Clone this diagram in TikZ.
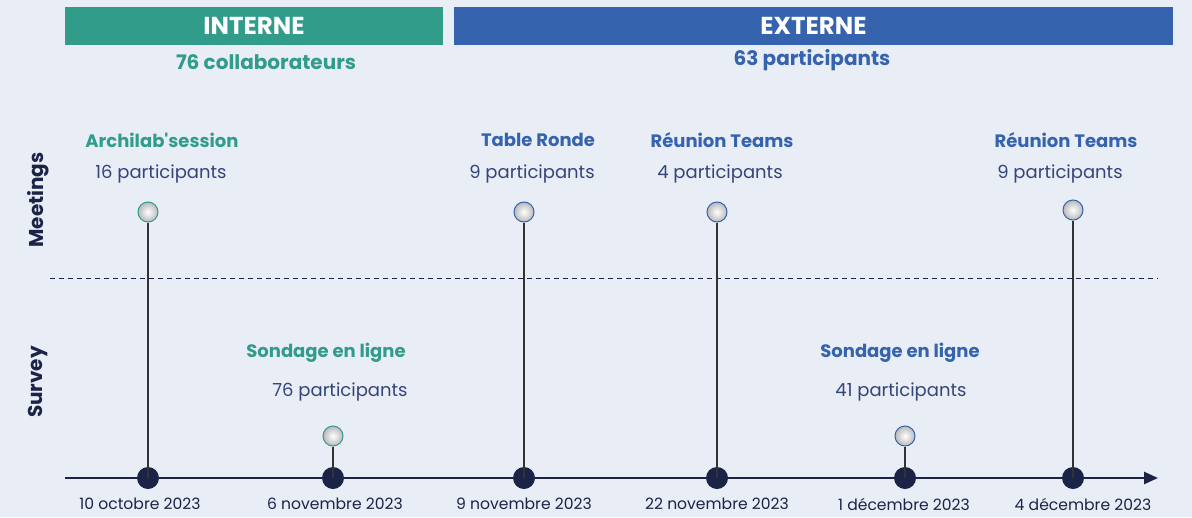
\documentclass[tikz,border=0pt]{standalone}
\usepackage{fontspec}
\setmainfont{Poppins}[Ligatures=TeXOff]
\usetikzlibrary{arrows.meta, positioning}
\definecolor{bgcol}{HTML}{E9EDF6}
\definecolor{interne}{HTML}{329C8B}
\definecolor{externe}{HTML}{3563AE}
\definecolor{navytxt}{HTML}{34457A}
\definecolor{axis}{HTML}{1B2447}

\begin{document}
\begin{tikzpicture}[x=1pt, y=-1pt,
node distance = 4pt and 6pt,
    bar/.style = {minimum height=38pt, inner sep=0pt, text=white,
                  font=\fontsize{24.5}{28}\selectfont\bfseries},
  title/.style = {font=\fontsize{18}{21}\selectfont\bfseries},
  group/.style = {font=\fontsize{20}{23}\selectfont\bfseries},
  count/.style = {text=navytxt, font=\fontsize{18}{21}\selectfont},
   date/.style = {text=axis, font=\fontsize{15.6}{18}\selectfont},
    dot/.style = {circle, fill=axis, minimum size=22pt, inner sep=0pt},
   ball/.style = {circle, draw=#1, line width=1pt, inner color=white,
                  outer color=gray!55, minimum size=20pt, inner sep=0pt},
   side/.style = {rotate=90, text=axis, font=\fontsize{20}{23}\selectfont\bfseries},
  stick/.style = {draw=black!80, line width=1.2pt},
      > = {Triangle[length=14pt, width=12pt]},
         ]
\fill[bgcol] (0,0) rectangle (1192,517);
\useasboundingbox (0,0) rectangle (1192,517);

% groups
\node (int)  [bar, fill=interne, minimum width=378pt] at (254,26) {INTERNE};
\node (ext)  [bar, fill=externe, minimum width=719pt] at (813.5,26) {EXTERNE};
\node (intn) [group, text=interne] at (266,62) {76 collaborateurs};
\node (extn) [group, text=externe] at (812,60) {63 participants};

% rows
\node (meet) [side] at (38,200) {Meetings};
\node (surv) [side] at (38,382) {Survey};
\coordinate (sep0) at (50,278);
\coordinate (sep1) at (1158,278);
\draw[axis, line width=1pt, dash pattern=on 5pt off 4pt] (sep0) -- (sep1);

% time axis
\coordinate (ax0) at (65,478);
\coordinate (ax1) at (1158,478);
\draw[->, axis, line width=2.5pt] (ax0) -- (ax1);

\node (d1) [dot] at (148,478) {};
\node (d2) [dot] at (333,478) {};
\node (d3) [dot] at (524,478) {};
\node (d4) [dot] at (717,478) {};
\node (d5) [dot] at (905,478) {};
\node (d6) [dot] at (1073,478) {};

\node (b1) [ball=interne] at (148,212) {};
\node (b2) [ball=interne] at (333,436) {};
\node (b3) [ball=externe] at (524,212) {};
\node (b4) [ball=externe] at (717,212) {};
\node (b5) [ball=externe] at (905,436) {};
\node (b6) [ball=externe] at (1073,210) {};

%
\draw[stick] (b1) -- (d1.center);
\draw[stick] (b2) -- (d2.center);
\draw[stick] (b3) -- (d3.center);
\draw[stick] (b4) -- (d4.center);
\draw[stick] (b5) -- (d5.center);
\draw[stick] (b6) -- (d6.center);

% labels
\node (t1) [title, text=interne] at (162,140) {Archilab'session};
\node (c1) [count] at (161,174) {16 participants};
\node (t2) [title, text=interne] at (326,353) {Sondage en ligne};
\node (c2) [count] at (340,392) {76 participants};
\node (t3) [title, text=externe] at (538,140) {Table Ronde};
\node (c3) [count] at (532,174) {9 participants};
\node (t4) [title, text=externe] at (722,140) {Réunion Teams};
\node (c4) [count] at (720,174) {4 participants};
\node (t5) [title, text=externe] at (900,353) {Sondage en ligne};
\node (c5) [count] at (901,392) {41 participants};
\node (t6) [title, text=externe] at (1066,140) {Réunion Teams};
\node (c6) [count] at (1060,174) {9 participants};

% dates
\node (e1) [date] at (140,504) {10 octobre 2023};
\node (e2) [date] at (335,504) {6 novembre 2023};
\node (e3) [date] at (524,504) {9 novembre 2023};
\node (e4) [date] at (717,504) {22 novembre 2023};
\node (e5) [date] at (904,504) {1 décembre 2023};
\node (e6) [date] at (1083,504) {4 décembre 2023};
\end{tikzpicture}
\end{document}
